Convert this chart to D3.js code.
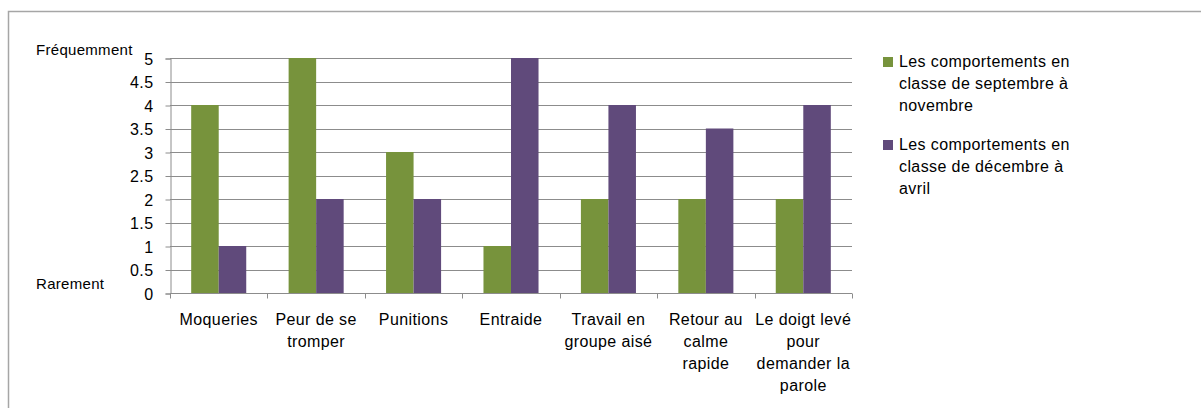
<!DOCTYPE html>
<html>
<head>
<meta charset="utf-8">
<script src="https://cdn.jsdelivr.net/npm/d3@7"></script>
<style>
  body { margin: 0; background: #fff; }
  text { font-family: "Liberation Sans", Arial, sans-serif; fill: #000; }
</style>
</head>
<body>
<div class="canvas"></div>
<script>
// chart data
const categories = [
  ['Moqueries'],
  ['Peur de se', 'tromper'],
  ['Punitions'],
  ['Entraide'],
  ['Travail en', 'groupe aisé'],
  ['Retour au', 'calme', 'rapide'],
  ['Le doigt levé', 'pour', 'demander la', 'parole']
];
const septNov = [4, 5, 3, 1, 2, 2, 2];
const decAvr = [1, 2, 2, 5, 4, 3.5, 4];
const yTicks = [0, 0.5, 1, 1.5, 2, 2.5, 3, 3.5, 4, 4.5, 5];
const seriesNames = [
  ['Les comportements en', 'classe de septembre à', 'novembre'],
  ['Les comportements en', 'classe de décembre à', 'avril']
];
const colours = ['#77933C', '#604A7B'];

const dims = {width: 1201, height: 408};
const plot = {left: 170, right: 852, top: 58, bottom: 293};

const svg = d3.select('.canvas')
  .append('svg')
  .attr('width', dims.width)
  .attr('height', dims.height);

// outer frame (runs off the right and bottom edges)
svg.append('rect')
  .attr('x', 8.5).attr('y', 11.5)
  .attr('width', 1300).attr('height', 500)
  .attr('fill', 'none')
  .attr('stroke', '#a6a6a6')
  .attr('stroke-width', 1.5);

const x = d3.scaleBand()
  .domain(d3.range(categories.length))
  .range([plot.left, plot.right])
  .paddingInner(0).paddingOuter(0);

const xInner = d3.scaleBand()
  .domain([0, 1])
  .range([0, x.bandwidth()])
  .paddingOuter(0.77).paddingInner(0);

const y = d3.scaleLinear()
  .domain([0, 5])
  .range([plot.bottom, plot.top]);

// gridlines
svg.append('g')
  .selectAll('line')
  .data(yTicks.filter(d => d > 0))
  .join('line')
  .attr('x1', plot.left).attr('x2', plot.right)
  .attr('y1', d => Math.round(y(d)) + 0.5)
  .attr('y2', d => Math.round(y(d)) + 0.5)
  .attr('stroke', '#8c8c8c');

// y axis
const yAxis = svg.append('g')
  .attr('transform', `translate(${plot.left + 0.5},0.5)`)
  .call(d3.axisLeft(y).tickValues(yTicks).tickSize(5).tickPadding(12).tickFormat(d3.format('')));
yAxis.select('.domain').attr('stroke', '#8c8c8c');
yAxis.selectAll('.tick line').attr('stroke', '#8c8c8c');
yAxis.selectAll('text').style('font-size', '16px').style('letter-spacing', '0.4px').attr('dy', '0.36em');

// bars
const groups = svg.append('g')
  .selectAll('g')
  .data(categories.map((c, i) => [septNov[i], decAvr[i]]))
  .join('g')
  .attr('transform', (d, i) => `translate(${x(i)},0)`);

groups.selectAll('rect')
  .data(d => d)
  .join('rect')
  .attr('x', (d, j) => xInner(j))
  .attr('width', xInner.bandwidth())
  .attr('y', d => y(d))
  .attr('height', d => y(0) - y(d))
  .attr('fill', (d, j) => colours[j]);

// x axis
const xAxis = svg.append('g')
  .attr('transform', `translate(0,${plot.bottom + 0.5})`);
xAxis.append('line')
  .attr('x1', plot.left).attr('x2', plot.right)
  .attr('stroke', '#8c8c8c');
xAxis.selectAll('.tk')
  .data(d3.range(categories.length + 1))
  .join('line')
  .attr('class', 'tk')
  .attr('x1', i => Math.round(plot.left + i * x.bandwidth()) + 0.5)
  .attr('x2', i => Math.round(plot.left + i * x.bandwidth()) + 0.5)
  .attr('y1', 0).attr('y2', 5)
  .attr('stroke', '#8c8c8c');

// category labels
svg.append('g')
  .selectAll('text')
  .data(categories)
  .join('text')
  .attr('x', (d, i) => x(i) + x.bandwidth() / 2)
  .attr('y', 325)
  .attr('text-anchor', 'middle')
  .style('font-size', '16px')
  .style('letter-spacing', '0.4px')
  .selectAll('tspan')
  .data(d => d)
  .join('tspan')
  .attr('x', function () { return this.parentNode.getAttribute('x'); })
  .attr('dy', (d, i) => i === 0 ? 0 : 22)
  .text(d => d);

// side labels
svg.append('text').attr('x', 36).attr('y', 55).style('font-size', '15px').style('letter-spacing', '0.3px').text('Fréquemment');
svg.append('text').attr('x', 36).attr('y', 289).style('font-size', '15px').style('letter-spacing', '0.3px').text('Rarement');

// legend
const legend = svg.append('g')
  .selectAll('g')
  .data(seriesNames)
  .join('g')
  .attr('transform', (d, i) => `translate(883,${57 + i * 83})`);
legend.append('rect')
  .attr('width', 10).attr('height', 10)
  .attr('fill', (d, i) => colours[i]);
legend.append('text')
  .attr('x', 16).attr('y', 10)
  .style('font-size', '16px')
  .style('letter-spacing', '0.4px')
  .selectAll('tspan')
  .data(d => d)
  .join('tspan')
  .attr('x', 16)
  .attr('dy', (d, i) => i === 0 ? 0 : 22)
  .text(d => d);
</script>
</body>
</html>
